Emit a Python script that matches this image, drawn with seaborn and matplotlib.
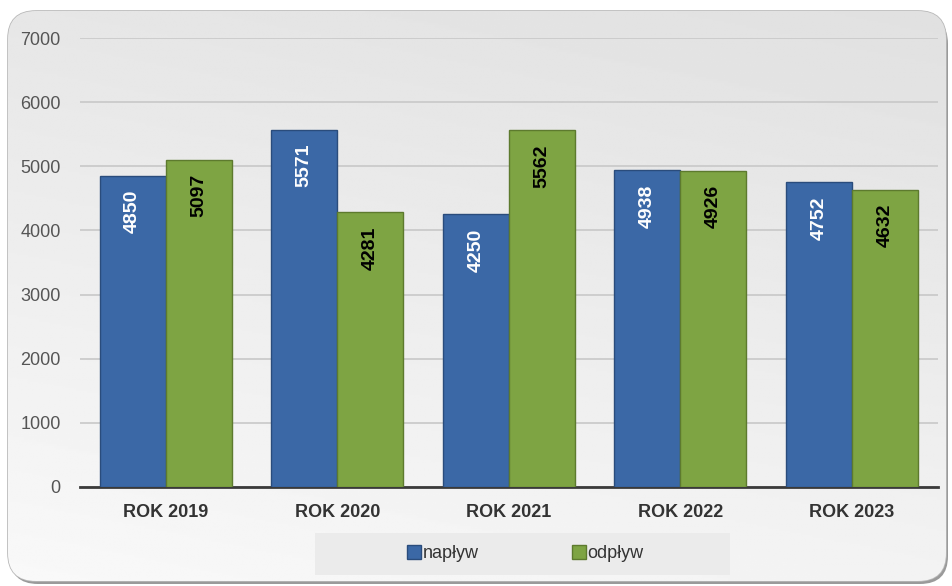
import numpy as np
import pandas as pd
import matplotlib.pyplot as plt
import seaborn as sns
from matplotlib.patches import FancyBboxPatch, Rectangle
from matplotlib.transforms import offset_copy

years = ['ROK 2019', 'ROK 2020', 'ROK 2021', 'ROK 2022', 'ROK 2023']
naplyw = [4850, 5571, 4250, 4938, 4752]
odplyw = [5097, 4281, 5562, 4926, 4632]
series = ['napływ', 'odpływ']
colors = ['#3b68a6', '#7ea443']
edge_colors = ['#2a4c7c', '#5d7a2e']
text_colors = ['white', 'black']

df = pd.DataFrame({
    'rok': years * 2,
    'wartosc': naplyw + odplyw,
    'seria': [series[0]] * len(years) + [series[1]] * len(years),
})

sns.set_style('white')
plt.rcParams['font.family'] = ['Liberation Sans Narrow', 'Liberation Sans', 'DejaVu Sans']

fig = plt.figure(figsize=(9.52, 5.86), dpi=100)

# rounded grey panel with a soft gradient
bg = fig.add_axes([0, 0, 1, 1], zorder=-10)
bg.set_xlim(0, 952)
bg.set_ylim(0, 586)
bg.axis('off')
shadow = FancyBboxPatch((10, 2), 938, 568, boxstyle='round,pad=0,rounding_size=28',
                        fc='#9a9a9a', ec='none', transform=bg.transData)
bg.add_patch(shadow)
panel = FancyBboxPatch((8, 5), 938, 570, boxstyle='round,pad=0,rounding_size=28',
                       fc='none', ec='#b8b8b8', lw=1.2, transform=bg.transData)
bg.add_patch(panel)
grad = np.linspace(0, 1, 256)
gx, gy = np.meshgrid(grad, grad)
img = 0.975 - 0.13 * (0.55 * (1 - gy) + 0.45 * gx * 0.4)
im = bg.imshow(img, extent=(8, 946, 5, 575), origin='upper', cmap='gray',
               vmin=0, vmax=1, aspect='auto', zorder=1)
im.set_clip_path(panel)
# legend backdrop
bg.add_patch(Rectangle((315, 11), 415, 42, fc='#ebebeb', ec='none', zorder=2))

ax = fig.add_axes([0.084, 0.169, 0.901, 0.766])
ax.patch.set_alpha(0)
sns.barplot(data=df, x='rok', y='wartosc', hue='seria', palette=colors,
            width=0.77, gap=0, ax=ax, legend=True, saturation=1, zorder=3)

for i, cont in enumerate(ax.containers):
    for bar, v in zip(cont, cont.datavalues):
        bar.set_edgecolor(edge_colors[i])
        bar.set_linewidth(1.0)
        tr = offset_copy(ax.transData, fig=fig, y=-10, units='points')
        ax.text(bar.get_x() + bar.get_width() / 2, bar.get_height(), f'{v:.0f}',
                transform=tr, rotation=90, ha='center', va='top',
                color=text_colors[i], fontsize=14, fontweight='bold', zorder=4)

ax.set_ylim(0, 7000)
ax.set_xlim(-0.5, 4.5)
ax.set_yticks(range(0, 7001, 1000))
ax.yaxis.grid(True, color='#c8c8c8', lw=1.2, zorder=0)
ax.set_axisbelow(True)
for s in ['top', 'right', 'left']:
    ax.spines[s].set_visible(False)
ax.spines['bottom'].set_color('#3a3a3a')
ax.spines['bottom'].set_linewidth(2)
ax.tick_params(axis='y', length=0, labelsize=13, labelcolor='#555555', pad=14)
ax.tick_params(axis='x', length=0, labelsize=13, labelcolor='#333333', pad=12)
for t in ax.get_xticklabels():
    t.set_fontweight('bold')
ax.set_xlabel('')
ax.set_ylabel('')

ax.get_legend().remove()
handles = [plt.Rectangle((0, 0), 1, 1, fc=colors[i], ec=edge_colors[i]) for i in range(2)]
leg = fig.legend(handles, series, loc='center', bbox_to_anchor=(0.552, 0.055),
                 ncol=2, frameon=False, fontsize=13, handlelength=0.75, handleheight=0.75,
                 handletextpad=0.1, columnspacing=5.2, borderaxespad=0)
for t in leg.get_texts():
    t.set_color('#333333')

fig.savefig('out.png', dpi=100)
